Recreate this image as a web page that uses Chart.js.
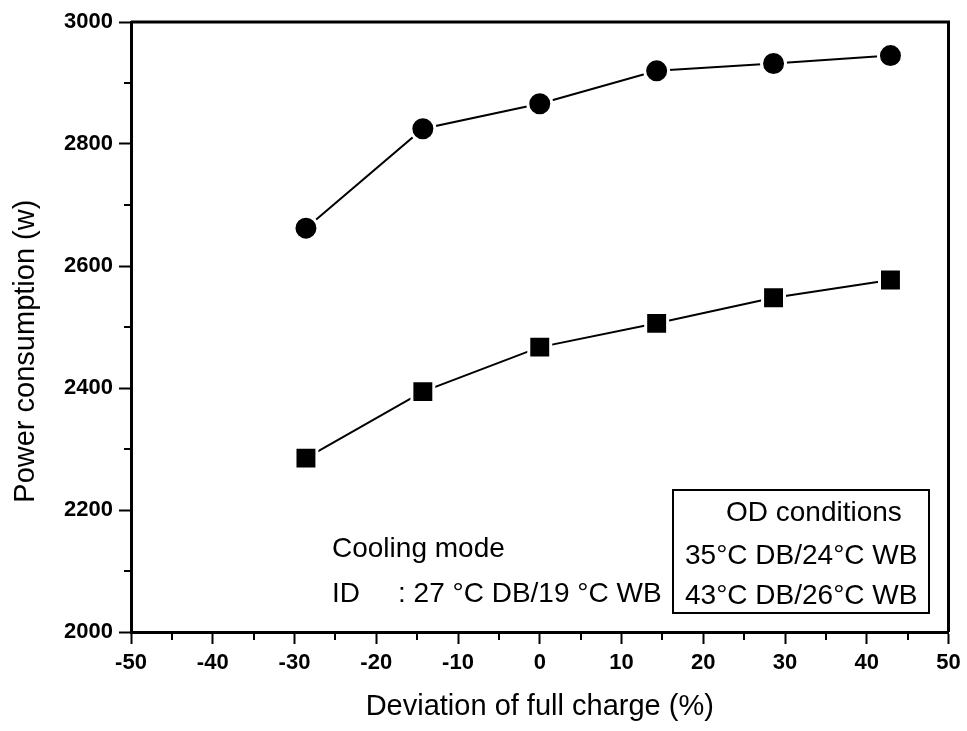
<!DOCTYPE html>
<html><head><meta charset="utf-8">
<script src="https://cdn.jsdelivr.net/npm/chart.js@4"></script>
<style>html,body{margin:0;padding:0;background:#fff;}canvas{display:block;}</style>
</head><body>
<canvas id="c" width="967" height="731"></canvas>
<script>
const deviation = [-28.6, -14.3, 0, 14.3, 28.6, 42.9];
const power43 = [2662, 2825, 2866, 2920, 2932, 2945];
const power35 = [2285, 2394, 2467, 2506, 2548, 2577];
const xTicks = [-50, -40, -30, -20, -10, 0, 10, 20, 30, 40, 50];
const yTicks = [2000, 2200, 2400, 2600, 2800, 3000];
const xMinor = [-45, -35, -25, -15, -5, 5, 15, 25, 35, 45];
const yMinor = [2100, 2300, 2500, 2700, 2900];
const seriesLabels = ['43°C DB/26°C WB', '35°C DB/24°C WB'];
const legendTitle = 'OD conditions';
const noteLines = ['Cooling mode', 'ID', ': 27 °C DB/19 °C WB'];
const xTitle = 'Deviation of full charge (%)';
const yTitle = 'Power consumption (w)';

const FONT = '"Liberation Sans", Arial, Helvetica, sans-serif';

const extras = {
  id: 'extras',
  afterDraw(chart) {
    const ctx = chart.ctx;
    const a = chart.chartArea;
    const xs = chart.scales.x, ys = chart.scales.y;
    ctx.save();
    ctx.strokeStyle = '#000';
    ctx.lineWidth = 3;
    ctx.beginPath();
    ctx.moveTo(a.left, a.top);
    ctx.lineTo(a.right, a.top);
    ctx.lineTo(a.right, a.bottom);
    ctx.stroke();
    ctx.lineWidth = 2;
    ctx.beginPath();
    xMinor.forEach(v => {
      const p = Math.round(xs.getPixelForValue(v));
      ctx.moveTo(p, a.bottom); ctx.lineTo(p, a.bottom + 8);
    });
    yMinor.forEach(v => {
      const p = Math.round(ys.getPixelForValue(v));
      ctx.moveTo(a.left - 7, p); ctx.lineTo(a.left, p);
    });
    ctx.stroke();
    // notes
    ctx.fillStyle = '#000';
    ctx.font = '28px ' + FONT;
    ctx.textBaseline = 'alphabetic';
    ctx.textAlign = 'left';
    ctx.fillText(noteLines[0], 332, 557);
    ctx.fillText(noteLines[1], 332, 602);
    ctx.fillText(noteLines[2], 398, 602);
    // legend box
    ctx.lineWidth = 2;
    ctx.strokeRect(673, 490, 256, 123);
    ctx.fillText(legendTitle, 726, 521);
    ctx.fillText(seriesLabels[1], 685, 564);
    ctx.fillText(seriesLabels[0], 685, 604);
    ctx.restore();
  }
};

new Chart(document.getElementById('c'), {
  type: 'scatter',
  data: {
    datasets: [
      {
        label: seriesLabels[0],
        data: deviation.map((x, i) => ({x, y: power43[i]})),
        showLine: true,
        borderColor: '#000',
        borderWidth: 2,
        pointStyle: 'circle',
        pointRadius: 12,
        pointHoverRadius: 12,
        pointBackgroundColor: '#000',
        pointBorderColor: '#fff',
        pointBorderWidth: 3
      },
      {
        label: seriesLabels[1],
        data: deviation.map((x, i) => ({x, y: power35[i]})),
        showLine: true,
        borderColor: '#000',
        borderWidth: 2,
        pointStyle: 'rect',
        pointRadius: 15.5,
        pointHoverRadius: 15.5,
        pointBackgroundColor: '#000',
        pointBorderColor: '#fff',
        pointBorderWidth: 3
      }
    ]
  },
  options: {
    responsive: false,
    animation: false,
    devicePixelRatio: 1,
    layout: { padding: { top: 22, right: 14, left: 0, bottom: 0 } },
    plugins: { legend: { display: false }, tooltip: { enabled: false } },
    scales: {
      x: {
        type: 'linear',
        min: -50, max: 50,
        afterBuildTicks: s => { s.ticks = xTicks.map(v => ({value: v})); },
        afterFit: s => { s.height = 99; },
        border: { display: true, color: '#000', width: 3 },
        grid: { drawOnChartArea: false, drawTicks: true, tickLength: 12, tickWidth: 2, tickColor: '#000' },
        ticks: { color: '#000', font: { family: FONT, size: 22, weight: 'bold' }, padding: 6, maxRotation: 0, callback: v => String(v) },
        title: { display: true, text: xTitle, color: '#000', font: { family: FONT, size: 29 }, padding: { top: 0, bottom: 7 } }
      },
      y: {
        type: 'linear',
        min: 2000, max: 3000,
        afterBuildTicks: s => { s.ticks = yTicks.map(v => ({value: v})); },
        afterFit: s => { s.width = 131; },
        border: { display: true, color: '#000', width: 3 },
        grid: { drawOnChartArea: false, drawTicks: true, tickLength: 12, tickWidth: 2, tickColor: '#000' },
        ticks: { color: '#000', font: { family: FONT, size: 22, weight: 'bold' }, padding: 6, callback: v => String(v) },
        title: { display: true, text: yTitle + '      ', color: '#000', font: { family: FONT, size: 29 }, padding: { top: 9, bottom: 0 } }
      }
    }
  },
  plugins: [extras]
});
</script>
</body></html>
